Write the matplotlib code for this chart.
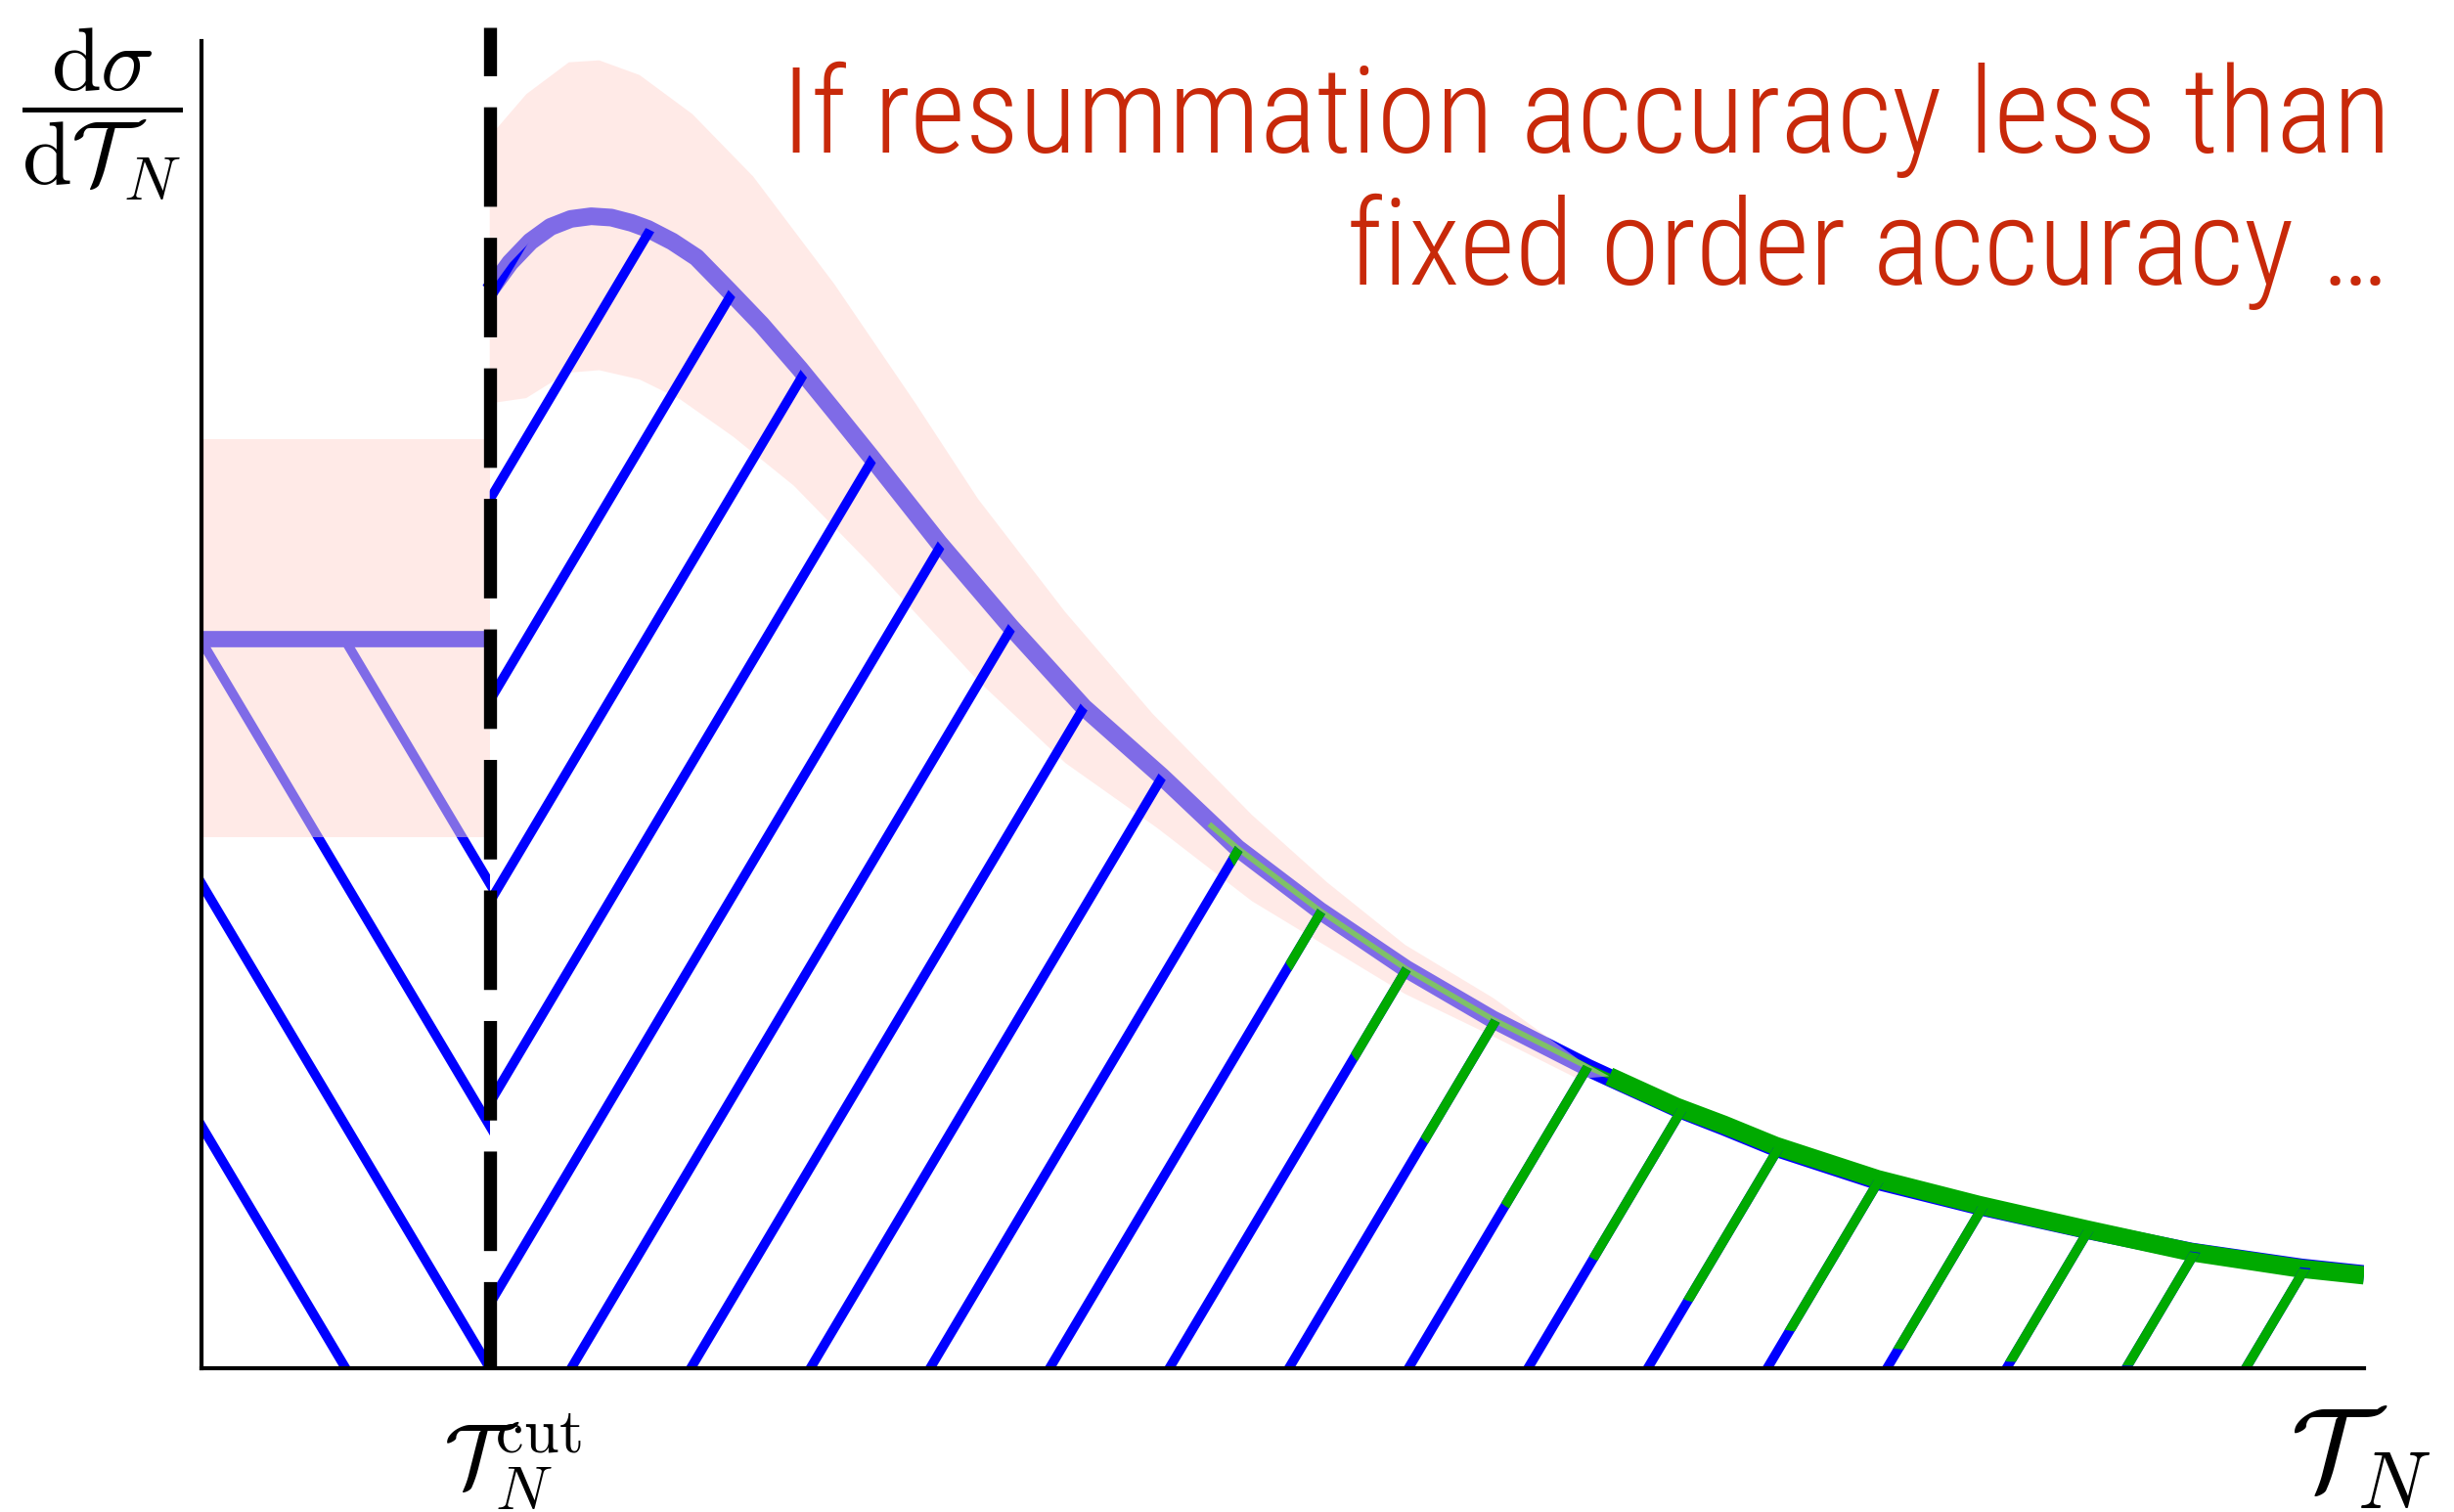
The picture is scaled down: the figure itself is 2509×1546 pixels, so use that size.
import numpy as np
import matplotlib.pyplot as plt
from matplotlib.collections import LineCollection
from matplotlib.patches import Polygon

plt.rcParams['mathtext.fontset'] = 'cm'

# cut position and plateau below the cut
tau_cut = 1.333
plateau = 5.5
plateau_band = (4.0, 7.0)

# resummed spectrum above the cut
tau_res = [1.333, 1.427, 1.521, 1.614, 1.708, 1.802, 1.895, 1.989, 2.064, 2.177,
           2.289, 2.439, 2.589, 2.767, 2.927, 3.095, 3.41, 3.74, 4.08, 4.44,
           4.79, 5.17, 5.57, 5.97, 6.41, 6.51, 6.82, 7.04, 7.28, 7.75,
           8.22, 8.72, 9.20, 9.71, 10.0]
sig_res = [8.12, 8.33, 8.49, 8.60, 8.66, 8.68, 8.67, 8.63, 8.585, 8.49,
           8.37, 8.12, 7.865, 7.53, 7.21, 6.87, 6.22, 5.59, 4.98, 4.46,
           3.92, 3.45, 3.01, 2.63, 2.265, 2.19, 1.96, 1.82, 1.66, 1.41,
           1.22, 1.04, 0.88, 0.76, 0.71]

# scale uncertainty band of the resummed result
tau_band_hi = [1.333, 1.502, 1.699, 1.839, 2.026, 2.270, 2.551, 2.926, 3.302, 3.591,
               3.993, 4.399, 4.857, 5.206, 5.566, 5.973, 6.365, 6.51]
band_hi = [9.28, 9.60, 9.84, 9.855, 9.744, 9.45, 8.98, 8.17, 7.27, 6.55,
           5.70, 4.93, 4.17, 3.66, 3.19, 2.79, 2.33, 2.20]
tau_band_lo = [1.333, 1.502, 1.689, 1.839, 2.026, 2.214, 2.458, 2.739, 3.092, 3.591,
               3.995, 4.42, 4.857, 5.566, 5.973, 6.365, 6.51]
band_lo = [7.27, 7.31, 7.50, 7.52, 7.45, 7.30, 7.02, 6.65, 6.06, 5.18,
           4.56, 4.07, 3.52, 2.82, 2.50, 2.18, 2.20]

# fixed order result in the tail
tau_fo = [4.66, 4.79, 5.17, 5.57, 5.97, 6.41, 6.51, 6.82, 7.04, 7.28,
          7.75, 8.22, 8.72, 9.20, 9.71, 10.0]
sig_fo = [4.10, 3.92, 3.45, 3.01, 2.63, 2.27, 2.20, 1.97, 1.835, 1.675,
          1.425, 1.23, 1.045, 0.875, 0.75, 0.70]
# lower edge of the fixed order hatched region
tau_fo_lo = [4.66, 4.76, 5.02, 5.33, 5.65, 6.03, 6.44, 6.87, 7.32, 7.82,
             8.35, 8.90, 9.44, 10.0]
fo_lo = [4.10, 3.83, 3.04, 2.34, 1.72, 1.22, 0.82, 0.51, 0.29, 0.15,
         0.05, 0.02, 0.0, 0.0]

blue = '#0000ff'
green = '#00aa00'
pink = (1.0, 0.84, 0.82, 0.5)
red = '#c8290a'

W, H = 2509, 1546
fig = plt.figure(figsize=(W / 100, H / 100), dpi=100)
ax = fig.add_axes([206 / W, (H - 1399) / H, (2417 - 206) / W, (1399 - 42) / H])
ax.set_xlim(0, 10)
ax.set_ylim(0, 10)
ax.set_xticks([])
ax.set_yticks([])
for s in ['top', 'right']:
    ax.spines[s].set_visible(False)
for s in ['left', 'bottom']:
    ax.spines[s].set_linewidth(3.0)
    ax.spines[s].set_zorder(5)


def hatch(x0s, slope, color, clip, z):
    segs = [[(x0 - 12 / slope, -12), (x0 + 12 / slope, 12)] for x0 in x0s]
    lc = LineCollection(segs, colors=color, linewidths=7, zorder=z)
    ax.add_collection(lc)
    lc.set_clip_path(clip)


# below the cut: plateau with hatching
left_clip = Polygon([(0, 0), (tau_cut, 0), (tau_cut, plateau), (0, plateau)],
                    closed=True, transform=ax.transData)
hatch(tau_cut / 2 * np.arange(1, 5), -2.74, blue, left_clip, 2)
ax.plot([0, tau_cut], [plateau, plateau], color=blue, lw=12,
        solid_capstyle='butt', zorder=2)
ax.fill_between([0, tau_cut], plateau_band[0], plateau_band[1],
                color=pink, lw=0, zorder=3)

# above the cut: resummed curve, band and hatching
ax.plot(tau_res, sig_res, color=blue, lw=13, solid_capstyle='butt', zorder=2)
ax.plot(tau_fo[:7], sig_fo[:7], color=green, lw=4, solid_capstyle='butt', zorder=2.5)
ax.plot(tau_fo[6:], sig_fo[6:], color=green, lw=13.5, solid_capstyle='butt', zorder=2.5)
band = np.concatenate([np.column_stack([tau_band_hi, band_hi]),
                       np.column_stack([tau_band_lo, band_lo])[::-1]])
ax.add_patch(Polygon(band, closed=True, facecolor=pink, lw=0, zorder=3))

res_clip = Polygon(np.concatenate([np.column_stack([tau_res, sig_res]),
                                   [(10.0, 0), (tau_cut, 0)]]),
                   closed=True, transform=ax.transData)
x0_right = 1.7096 + 0.5531 * np.arange(-7, 15)
hatch(x0_right, 2.74, blue, res_clip, 4)

fo_clip = Polygon(np.concatenate([np.column_stack([tau_fo, sig_fo]),
                                  np.column_stack([tau_fo_lo, fo_lo])[::-1]]),
                  closed=True, transform=ax.transData)
hatch(x0_right, 2.74, green, fo_clip, 4.5)

# the cut
ax.plot([tau_cut, tau_cut], [10.10, 0], color='black', lw=9.6,
        linestyle=(3.92, (7.63, 2.38)), clip_on=False, zorder=6)

# labels
fig.text(104 / W, 1 - 117 / H, r'$\dfrac{\mathrm{d}\sigma}{\mathrm{d}\mathcal{T}_N}$',
         fontsize=66, ha='center', va='center')
fig.text(2413 / W, 1 - 1490 / H, r'$\mathcal{T}_N$', fontsize=85,
         ha='center', va='center')
fig.text(524 / W, 1 - 1495 / H, r'$\mathcal{T}_N^{\mathrm{cut}}$', fontsize=66,
         ha='center', va='center')

title_font = dict(fontsize=88.5, family=['Roboto Condensed', 'Roboto'], fontweight=300,
                  color=red, ha='right', va='baseline')
fig.text(2445 / W, 1 - 156 / H, 'If resummation accuracy less than', **title_font)
fig.text(2442 / W, 1 - 291 / H, 'fixed order accuracy …', **title_font)

fig.savefig('out.png', dpi=100)
